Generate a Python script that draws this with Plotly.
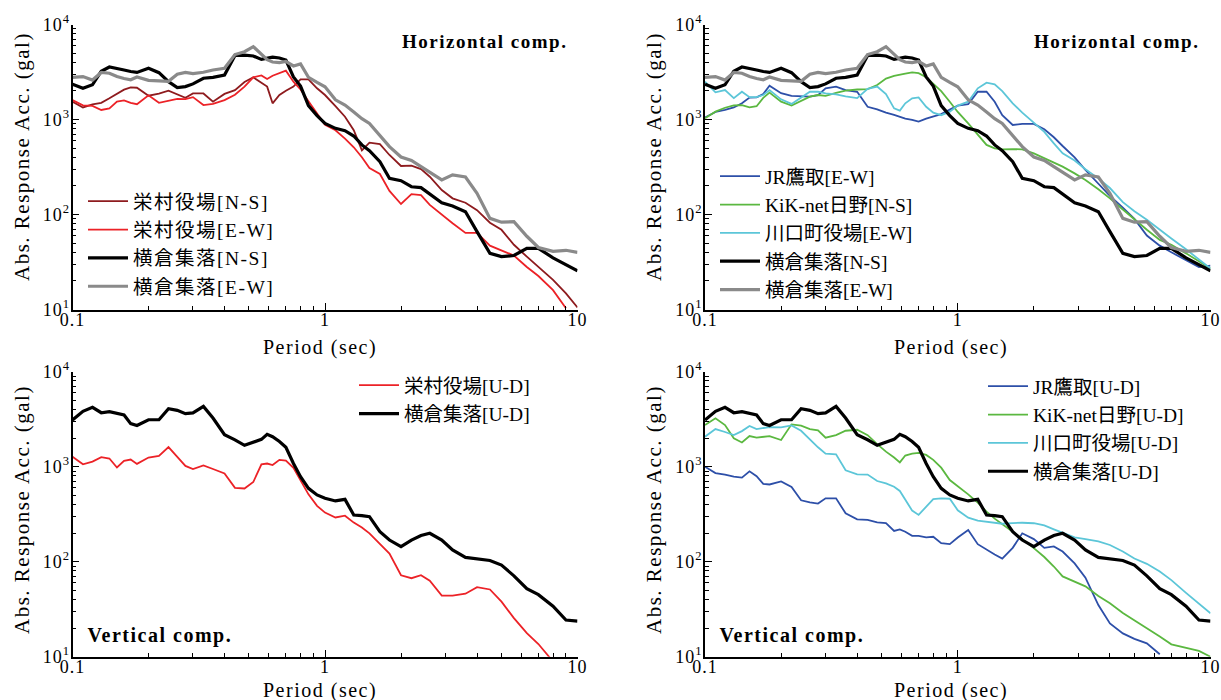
import plotly.graph_objects as go

# Natural period (s) at which each spectrum is sampled
PERIOD = [0.10, 0.11, 0.12, 0.13, 0.14, 0.15, 0.16, 0.17, 0.18,
          0.20, 0.22, 0.24, 0.26, 0.28, 0.30,
          0.33, 0.36, 0.40, 0.44, 0.48, 0.52, 0.56, 0.59, 0.62, 0.66, 0.70, 0.75, 0.80, 0.86, 0.93,
          1.0, 1.1, 1.2, 1.3, 1.4, 1.5, 1.65, 1.8,
          2.0, 2.2, 2.4, 2.6, 2.9,
          3.2, 3.6, 4.0, 4.5, 5.0, 5.6, 6.3, 7.0, 8.0, 9.0, 10.0]

# Absolute response acceleration (gal)
SAKAE_NS = [1540, 1340, 1440, 1500, 1670, 1880, 2060, 2180, 2160,
            1780, 1870, 2010, 1820, 1690, 1880,
            1880, 1540, 1860, 2040, 2480, 2780, 2460, 2220, 1480, 1810, 2010, 2220, 2650, 2650, 2130,
            1810, 1380, 1070, 770, 474, 570, 550, 423,
            324, 327, 301, 250, 181,
            148, 133, 111, 82, 69, 48, 36, 28, 20.5, 14.8, 10.5]
SAKAE_EW = [1600, 1410, 1390, 1260, 1310, 1540, 1590, 1500, 1450,
            1800, 1500, 1570, 1650, 1640, 1720,
            1420, 1460, 1600, 1820, 2220, 2780, 2910, 2670, 2890, 3070, 3270, 2500, 2070, 1560, 1160,
            880, 770, 630, 510, 400, 308, 267, 177,
            129, 164, 160, 126, 99,
            81, 64, 64, 47, 42, 37, 28, 22.5, 16, 10.3, None]
SAKAE_UD = [1270, 1060, 1130, 1260, 1220, 980, 1150, 1190, 1070,
            1250, 1300, 1610, 1270, 1020, 945,
            1030, 945, 850, 600, 590, 690, 1060, 1080, 1040, 1180, 1160, 975, 716, 512, 387,
            329, 292, 305, 258, 229, 199, 156, 122,
            72, 67, 72, 63, 44,
            44, 46, 54, 51, 38, 25.5, 17.7, 13.6, 8.9, None, None]
YOKO_NS = [2350, 2130, 2320, 3220, 3570, 3460, 3320, 3200, 3130,
           3460, 3110, 2500, 2170, 2220, 2370,
           2720, 2780, 2940, 4730, 4770, 4660, 4290, 4370, 4530, 4440, 4230, 2800, 2250, 1400, 1100,
           910, 807, 763, 670, 540, 470, 360, 240,
           227, 196, 192, 164, 133,
           123, 107, 66, 39, 36, 37, 44, 44, 35, 30, 25.6]
YOKO_EW = [2780, 2830, 2600, 3130, 3070, 2830, 2700, 2620, 2800,
           2580, 2550, 2520, 2990, 3130, 3040,
           3140, 3320, 3460, 4830, 5170, 5850, 4800, 4260, 4030, 3970, 4080, 3660, 3840, 2780, 2460,
           2210, 1610, 1420, 1200, 1020, 910, 687, 518,
           403, 370, 319, 276, 231,
           261, 248, 167, 91, 83, 84, 59, 45, 41, 42, 40]
YOKO_UD = [3100, 3830, 4210, 3700, 3790, 3620, 3500, 2840, 2720,
           3120, 3120, 4080, 3920, 3620, 3680,
           4310, 3250, 2170, 1920, 1680, 1800, 1940, 2190, 2070, 1840, 1600, 1080, 785, 592, 504,
           465, 436, 453, 310, 305, 298, 207, 169,
           144, 169, 189, 199, 169,
           133, 111, 107, 103, 92, 71, 52, 45, 34, 24.3, 23.7]
JR_EW = [1050, 1200, 1260, 1340, 1480, 1700, 1710, 1850, 2270,
         1890, 1770, 1770, 1740, 1800, 2130,
         2220, 2040, 1960, 1360, 1280, 1180, 1120, 1070, 1020, 990, 950, 1020, 1070, 1140, 1270,
         1400, 1450, 1960, 1960, 1540, 1110, 875, 900,
         900, 790, 650, 526, 400,
         294, 209, 157, 118, 90, 60, 47, 40, 33, 28, 29]
JR_UD = [1000, 858, 825, 786, 768, 893, 795, 660, 650,
         700, 613, 443, 422, 409, 465,
         465, 323, 279, 275, 260, 255, 211, 219, 207, 187, 187, 180, 183, 157, 153,
         180, 216, 153, 133, 119, 108, 140, 199,
         173, 140, 145, 128, 96,
         68, 35, 22.4, 17.6, 15.4, 13.8, 10.6, None, None, None, None]
KIK_NS = [1030, 1210, 1330, 1410, 1420, 1340, 1380, 1690, 1920,
          1540, 1400, 1560, 1740, 1810, 1770,
          1910, 2010, 2070, 2090, 2310, 2700, 2880, 2940, 3040, 3140, 3070, 2780, 2400, 1990, 1540,
          1200, 910, 687, 540, 497, 485, 488, 485,
          440, 390, 351, 319, 271,
          231, 184, 148, 113, 89, 69, 54, 48, 39, 32, 27]
KIK_UD = [2740, 3230, 2740, 1990, 1800, 2100, 2020, 2070, 2100,
          1910, 2790, 2700, 2490, 2410, 2020,
          2150, 2390, 2450, 2150, 1730, 1440, 1250, 1110, 1310, 1370, 1400, 1330, 1180, 977, 724,
          625, 511, 418, 336, 284, 249, 207, 172,
          139, 112, 89, 70, 62,
          55, 43.5, 36.5, 28.8, 24.2, 19.9, 16.3, 13.5, 12.4, 11.5, 10]
KAWA_EW = [2500, 1930, 2040, 1680, 1960, 1720, 1720, 1810, 2040,
           1630, 1460, 1710, 1960, 1960, 1880,
           1840, 1750, 1680, 2100, 2220, 1850, 1310, 1240, 1480, 1670, 1710, 1360, 1180, 1110, 1210,
           1400, 1540, 2130, 2440, 2340, 1990, 1480, 1180,
           920, 740, 560, 440, 370,
           300, 240, 190, 135, 108, 88, 70, 56, 43, 34, 27]
KAWA_UD = [2070, 2490, 2320, 2150, 2370, 2680, 2490, 2530, 2610,
           2590, 2720, 2390, 1940, 1600, 1370,
           1350, 916, 831, 827, 707, 667, 616, 555, 446, 345, 311, 379, 456, 464, 460,
           348, 291, 270, 262, 254, 251, 255, 257,
           254, 241, 219, 200, 180,
           173, 164, 150, 128, 108, 95, 79, 64, 47, 36, 28.6]

X_TICKS = [0.1, 1, 10]
X_TICK_TEXT = ["0.1", "1", "10"]
Y_TICKS = [10, 100, 1000, 10000]
Y_TICK_TEXT = ["10<sup>1</sup>", "10<sup>2</sup>", "10<sup>3</sup>", "10<sup>4</sup>"]

DARK_RED = "#8E1B1E"
RED = "#EC2227"
BLACK = "#000000"
GRAY = "#8A8A8A"
BLUE = "#2D4FA8"
GREEN = "#5BB840"
CYAN = "#5CC6D8"

W, H = 1221, 700
SERIF = "Liberation Serif"
LEGEND_FONT = "Liberation Serif, Noto Sans CJK JP"


def px(x):
    return x / W


def py(y):
    return 1 - y / H


# panel -> (xaxis id, yaxis id, legend id)
PANELS = {
    "tl": ("x", "y", "legend"),
    "tr": ("x2", "y2", "legend2"),
    "bl": ("x3", "y3", "legend3"),
    "br": ("x4", "y4", "legend4"),
}

fig = go.Figure()


def add(values, name, color, width, panel):
    xa, ya, lg = PANELS[panel]
    fig.add_trace(go.Scatter(
        x=PERIOD, y=values, name=name, mode="lines",
        line=dict(color=color, width=width),
        xaxis=xa, yaxis=ya, legend=lg, connectgaps=False,
    ))


THIN, THICK = 1.8, 3.2

add(SAKAE_NS, "栄村役場[N-S]", DARK_RED, THIN, "tl")
add(SAKAE_EW, "栄村役場[E-W]", RED, THIN, "tl")
add(YOKO_NS, "横倉集落[N-S]", BLACK, THICK, "tl")
add(YOKO_EW, "横倉集落[E-W]", GRAY, THICK, "tl")

add(JR_EW, "JR鷹取[E-W]", BLUE, THIN, "tr")
add(KIK_NS, "KiK-net日野[N-S]", GREEN, THIN, "tr")
add(KAWA_EW, "川口町役場[E-W]", CYAN, THIN, "tr")
add(YOKO_NS, "横倉集落[N-S]", BLACK, THICK, "tr")
add(YOKO_EW, "横倉集落[E-W]", GRAY, THICK, "tr")

add(SAKAE_UD, "栄村役場[U-D]", RED, THIN, "bl")
add(YOKO_UD, "横倉集落[U-D]", BLACK, THICK, "bl")

add(JR_UD, "JR鷹取[U-D]", BLUE, THIN, "br")
add(KIK_UD, "KiK-net日野[U-D]", GREEN, THIN, "br")
add(KAWA_UD, "川口町役場[U-D]", CYAN, THIN, "br")
add(YOKO_UD, "横倉集落[U-D]", BLACK, THICK, "br")

tick_font = dict(family=SERIF, size=18, color="black")
axis_common = dict(
    type="log", showline=True, linecolor="black", linewidth=1.5,
    ticks="inside", ticklen=7, tickwidth=1.2, tickcolor="black",
    minor=dict(ticks="inside", ticklen=4, tickwidth=1, tickcolor="black", dtick="D1"),
    showgrid=False, zeroline=False, mirror=False, tickfont=tick_font,
    automargin=False,
)

x_left = [px(72.5), px(577.5)]
x_right = [px(705), px(1210.5)]
y_top = [py(309.5), py(24.5)]
y_bot = [py(656.7), py(371.7)]

layout_axes = {}
for i, (xd, yd) in enumerate([(x_left, y_top), (x_right, y_top), (x_left, y_bot), (x_right, y_bot)], start=1):
    sx = "" if i == 1 else str(i)
    layout_axes["xaxis" + sx] = dict(axis_common, domain=xd, range=[-1, 1], anchor="y" + sx,
                                     tickvals=X_TICKS, ticktext=X_TICK_TEXT, ticklabelstandoff=-7)
    layout_axes["yaxis" + sx] = dict(axis_common, domain=yd, range=[1, 4], anchor="x" + sx,
                                     tickvals=Y_TICKS, ticktext=Y_TICK_TEXT, ticklabelstandoff=-3)

legend_common = dict(font=dict(family=LEGEND_FONT, size=19.5, color="black"),
                     bgcolor="rgba(0,0,0,0)", borderwidth=0, xanchor="left", yanchor="top",
                     tracegroupgap=0, itemwidth=40)

ann = []


def note(text, x, y, xanchor="center", size=20, angle=0, bold=False):
    ann.append(dict(text=f"<b>{text}</b>" if bold else text, x=px(x), y=py(y),
                    xref="paper", yref="paper", xanchor=xanchor, yanchor="middle",
                    showarrow=False, textangle=angle,
                    font=dict(family=SERIF, size=size, color="black")))


note("Horizontal comp.", 557, 41, xanchor="right", size=19, bold=True)
note("Horizontal comp.", 1189, 41, xanchor="right", size=19, bold=True)
note("Vertical comp.", 96, 635, xanchor="left", size=20, bold=True)
note("Vertical comp.", 728, 635, xanchor="left", size=20, bold=True)
note("Period (sec)", 320, 347)
note("Period (sec)", 951, 347)
note("Period (sec)", 320, 690)
note("Period (sec)", 951, 690)
note("Abs. Response Acc. (gal)", 22, 157, size=21, angle=-90)
note("Abs. Response Acc. (gal)", 654, 157, size=21, angle=-90)
note("Abs. Response Acc. (gal)", 22, 510, size=21, angle=-90)
note("Abs. Response Acc. (gal)", 654, 510, size=21, angle=-90)

fig.update_layout(
    width=W, height=H, autosize=False,
    margin=dict(l=0, r=0, t=0, b=0, pad=0),
    paper_bgcolor="white", plot_bgcolor="white",
    annotations=ann,
    legend=dict(legend_common, x=px(83), y=py(182)),
    legend2=dict(legend_common, x=px(715), y=py(157)),
    legend3=dict(legend_common, x=px(354), y=py(366)),
    legend4=dict(legend_common, x=px(983), y=py(367)),
    **layout_axes,
)

# slightly spread lettering of labels and legend entries
spacing_js = """
var st = document.createElement('style');
st.textContent = '.legendtext, .annotation-text {letter-spacing: 1.5px;} ' +
                 '.legend .scrollbox {clip-path: none !important;} ' +
                 '.xaxislayer-above text, .yaxislayer-above text {letter-spacing: 1px;}';
document.head.appendChild(st);
"""

fig.write_html("out.html", post_script=spacing_js)
